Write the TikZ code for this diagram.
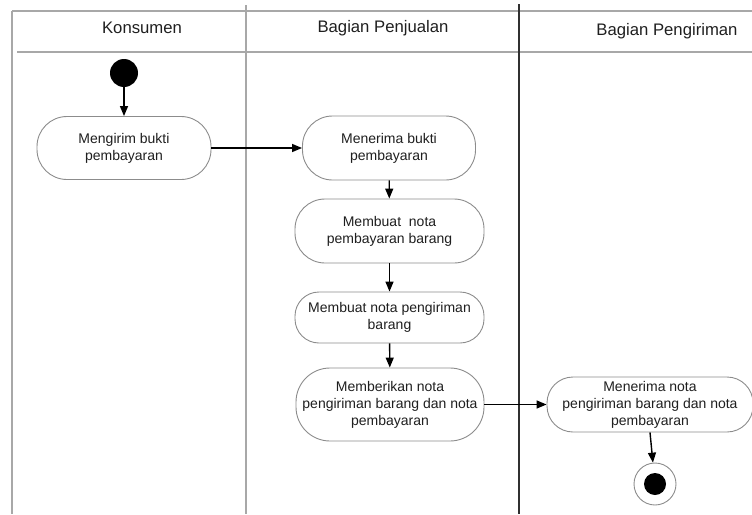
\documentclass[tikz,border=0pt]{standalone}
\usepackage{fontspec}
\setmainfont{Liberation Sans}
\usetikzlibrary{arrows.meta}
\definecolor{lanegray}{HTML}{A8A8A8}
\definecolor{boxgray}{HTML}{8C8C8C}
\definecolor{darkline}{HTML}{303030}
\begin{document}
\begin{tikzpicture}[x=1pt,y=-1pt,
  lane/.style={draw=lanegray,line width=1.2pt},
  hdr/.style={anchor=base,font=\fontsize{16.7}{20}\selectfont,text=black!88},
  act/.style={draw=boxgray,line width=0.9pt,fill=white,align=center,
    font=\fontsize{14}{17}\selectfont,text=black!88,inner sep=0pt},
  flow/.style={draw=black,line width=1.4pt,-{Triangle[length=10pt,width=8pt]}}]
\useasboundingbox (0,0) rectangle (752,514);
% swimlane frame
\draw[lane] (12,11) -- (752,11);
\draw[lane] (12,11) -- (12,514);
\draw[lane] (17,52) -- (752,52);
\draw[lane] (246,5) -- (246,514);
\draw[draw=darkline,line width=2.2pt] (519,4) -- (519,514);
% headers
\node[hdr] (h1) at (142,33) {Konsumen};
\node[hdr] (h2) at (383,32) {Bagian Penjualan};
\node[hdr] (h3) at (667,35) {Bagian Pengiriman};
% start
\node[circle,fill=black,minimum size=28pt,inner sep=0pt] (start) at (124,73) {};
% activities
\node[act,minimum width=174pt,minimum height=63pt,rounded corners=30pt] (n1) at (124,148) {Mengirim bukti\\pembayaran};
\node[act,minimum width=173pt,minimum height=64pt,rounded corners=30pt] (n2) at (389,148) {Menerima bukti\\pembayaran};
\node[act,minimum width=189pt,minimum height=64pt,rounded corners=30pt] (n3) at (389.5,231) {Membuat\ \ nota\\pembayaran barang};
\node[act,minimum width=189pt,minimum height=51pt,rounded corners=24pt] (n4) at (389.5,317.5) {Membuat nota pengiriman\\barang};
\node[act,minimum width=188pt,minimum height=73pt,rounded corners=34pt] (n5) at (390,404.5) {Memberikan nota\\pengiriman barang dan nota\\pembayaran};
\node[act,minimum width=206pt,minimum height=55pt,rounded corners=26pt] (n6) at (650,404.5) {Menerima nota\\pengiriman barang dan nota\\pembayaran};
% final
\node[circle,draw=boxgray,line width=0.9pt,fill=white,minimum size=42pt,inner sep=0pt] (fin) at (655,484) {};
\node[circle,fill=black,minimum size=22pt,inner sep=0pt] (fininner) at (fin) {};
% flows
\draw[flow] (start) -- (n1);
\draw[flow] (n1.east) -- (n2.west);
\draw[flow] (n2) -- (n3);
\draw[flow] (n3) -- (n4);
\draw[flow] (n4) -- (n5);
\draw[flow] (n5.east) -- (n6.west);
\draw[flow] (n6.south) -- (fin);
\end{tikzpicture}
\end{document}
